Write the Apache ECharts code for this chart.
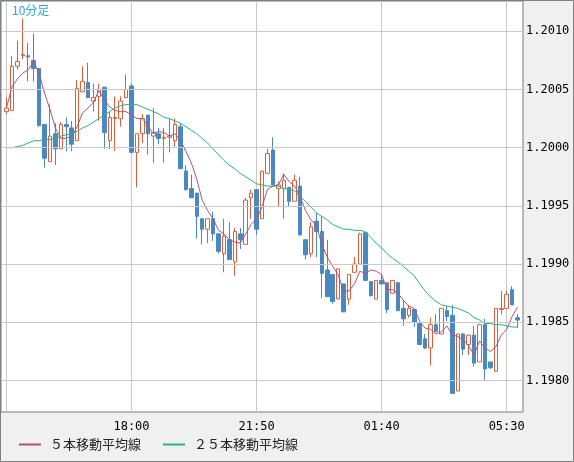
<!DOCTYPE html>
<html><head><meta charset="utf-8">
<script src="https://cdn.jsdelivr.net/npm/echarts@6/dist/echarts.min.js"></script>
<style>html,body{margin:0;padding:0;background:#f0f0f0}#c{width:574px;height:462px}</style>
</head><body><div id="c"></div>
<script>
// candles [open, close, low, high]
const opens  = [1.20031,1.20032,1.20070,1.20079,1.20079,1.20075,1.20068,1.20020,1.19988,1.20012,1.19999,1.20020,1.20017,1.20006,1.20048,1.20056,1.20040,1.20044,1.20052,1.20006,1.20025,1.20025,1.20043,1.20053,1.19996,1.20012,1.20028,1.20010,1.20012,1.20008,1.20009,1.20006,1.20018,1.19980,1.19965,1.19961,1.19939,1.19930,1.19939,1.19926,1.19909,1.19921,1.19902,1.19926,1.19917,1.19957,1.19964,1.19939,1.19978,1.19998,1.19965,1.19965,1.19966,1.19954,1.19967,1.19921,1.19909,1.19937,1.19928,1.19895,1.19891,1.19870,1.19883,1.19870,1.19893,1.19900,1.19927,1.19885,1.19870,1.19886,1.19884,1.19875,1.19884,1.19862,1.19856,1.19861,1.19849,1.19836,1.19828,1.19848,1.19840,1.19860,1.19856,1.19791,1.19840,1.19831,1.19839,1.19816,1.19848,1.19816,1.19808,1.19861,1.19862,1.19878,1.19854];
const highs  = [1.20043,1.20079,1.20092,1.20111,1.20090,1.20098,1.20068,1.20020,1.20037,1.20021,1.20022,1.20026,1.20023,1.20058,1.20070,1.20073,1.20055,1.20055,1.20052,1.20031,1.20044,1.20044,1.20063,1.20055,1.20012,1.20029,1.20028,1.20034,1.20017,1.20017,1.20025,1.20025,1.20021,1.19985,1.19977,1.19961,1.19939,1.19939,1.19945,1.19926,1.19939,1.19936,1.19931,1.19931,1.19957,1.19964,1.19964,1.19980,1.19999,1.20009,1.19971,1.19978,1.19966,1.19977,1.19975,1.19921,1.19936,1.19944,1.19941,1.19921,1.19891,1.19896,1.19883,1.19891,1.19906,1.19927,1.19927,1.19885,1.19886,1.19891,1.19884,1.19886,1.19884,1.19869,1.19865,1.19861,1.19849,1.19840,1.19854,1.19857,1.19862,1.19864,1.19865,1.19840,1.19841,1.19839,1.19847,1.19848,1.19853,1.19816,1.19862,1.19877,1.19877,1.19881,1.19857];
const lows   = [1.20029,1.20032,1.20067,1.20076,1.20057,1.20057,1.20018,1.19983,1.19988,1.19985,1.19999,1.19997,1.19997,1.20006,1.20048,1.20043,1.20031,1.20023,1.19999,1.19999,1.19997,1.20018,1.20043,1.19996,1.19966,1.20004,1.19994,1.19987,1.20003,1.19987,1.19996,1.20001,1.19982,1.19963,1.19957,1.19922,1.19917,1.19918,1.19920,1.19909,1.19893,1.19904,1.19890,1.19913,1.19917,1.19939,1.19925,1.19939,1.19978,1.19968,1.19949,1.19939,1.19949,1.19954,1.19925,1.19904,1.19906,1.19906,1.19871,1.19872,1.19866,1.19870,1.19859,1.19865,1.19893,1.19900,1.19886,1.19872,1.19870,1.19883,1.19858,1.19875,1.19860,1.19847,1.19854,1.19846,1.19831,1.19827,1.19813,1.19842,1.19840,1.19851,1.19789,1.19791,1.19822,1.19822,1.19812,1.19816,1.19800,1.19810,1.19808,1.19857,1.19862,1.19865,1.19845];
const closes = [1.20034,1.20070,1.20074,1.20080,1.20078,1.20068,1.20019,1.19991,1.20010,1.19999,1.20020,1.20018,1.20003,1.20051,1.20057,1.20043,1.20043,1.20050,1.20013,1.20026,1.20026,1.20040,1.20050,1.19996,1.20012,1.20025,1.20012,1.20013,1.20008,1.20009,1.20010,1.20020,1.19982,1.19964,1.19957,1.19941,1.19930,1.19939,1.19926,1.19911,1.19924,1.19904,1.19928,1.19921,1.19955,1.19961,1.19930,1.19980,1.19995,1.19968,1.19968,1.19972,1.19954,1.19972,1.19925,1.19908,1.19932,1.19928,1.19892,1.19872,1.19868,1.19896,1.19859,1.19891,1.19900,1.19926,1.19886,1.19873,1.19886,1.19883,1.19861,1.19886,1.19860,1.19853,1.19862,1.19850,1.19831,1.19828,1.19848,1.19842,1.19862,1.19855,1.19789,1.19840,1.19827,1.19839,1.19815,1.19848,1.19810,1.19811,1.19862,1.19862,1.19874,1.19865,1.19852];
const ma25 = [1.20000,1.20000,1.20001,1.20002,1.20004,1.20006,1.20006,1.20007,1.20007,1.20008,1.20010,1.20011,1.20012,1.20014,1.20017,1.20019,1.20022,1.20025,1.20028,1.20031,1.20034,1.20036,1.20037,1.20037,1.20037,1.20035,1.20033,1.20031,1.20029,1.20026,1.20025,1.20023,1.20021,1.20018,1.20015,1.20012,1.20008,1.20004,1.19999,1.19994,1.19989,1.19985,1.19982,1.19978,1.19975,1.19972,1.19969,1.19968,1.19967,1.19967,1.19967,1.19965,1.19964,1.19963,1.19958,1.19954,1.19949,1.19944,1.19941,1.19938,1.19934,1.19932,1.19930,1.19930,1.19929,1.19929,1.19928,1.19923,1.19918,1.19914,1.19909,1.19905,1.19902,1.19898,1.19894,1.19890,1.19883,1.19877,1.19872,1.19868,1.19865,1.19864,1.19863,1.19862,1.19860,1.19858,1.19854,1.19852,1.19849,1.19849,1.19848,1.19848,1.19847,1.19846,1.19846];
const yTicks = [1.1980,1.1985,1.1990,1.1995,1.2000,1.2005,1.2010];
const labelTimes = ['18:00','21:50','01:40','05:30'];
const gridTimes = ['14:10','18:00','21:50','01:40','05:30'];

const times = ['14:00'];
for (let i = 0; i < opens.length + 1; i++) {
  const m = 14*60 + 10 + i*10;
  const h = Math.floor(m/60) % 24, mm = m % 60;
  times.push(String(h).padStart(2,'0') + ':' + String(mm).padStart(2,'0'));
}
const candles = [['-','-','-','-']];
opens.forEach((o,i)=>candles.push([o, closes[i], lows[i], highs[i]]));
candles.push(['-','-','-','-']);
const ma5 = ['-'];
closes.forEach((c,i)=>{const s=closes.slice(Math.max(0,i-4),i+1);ma5.push(+(s.reduce((a,b)=>a+b,0)/s.length).toFixed(5));});
ma5.push('-');
const ma25d = ['-'].concat(ma25,['-']);
const isTick = v => yTicks.some(t => Math.abs(t - v) < 1e-7);

const chart = echarts.init(document.getElementById('c'));
chart.setOption({
  animation:false,
  backgroundColor:'#f0f0f0',
  grid:{left:1,right:51,top:1,bottom:50,show:true,backgroundColor:'#fff',borderColor:'#7a7a7a',borderWidth:1},
  legend:{left:14,bottom:6,itemWidth:22,itemHeight:2,itemGap:22,icon:'rect',
    textStyle:{fontFamily:'Noto Sans CJK JP',fontSize:13,color:'#222',padding:[0,0,0,4]},
    data:['５本移動平均線','２５本移動平均線']},
  xAxis:{type:'category',data:times,boundaryGap:false,
    axisLine:{show:false},axisTick:{show:false},
    axisLabel:{interval:(i,v)=>labelTimes.includes(v) && i>1,color:'#000',fontFamily:'DejaVu Sans Mono',fontSize:12,margin:9},
    splitLine:{show:true,interval:(i,v)=>gridTimes.includes(v)&&i>0,lineStyle:{color:'#c8c8c8',width:1}}},
  yAxis:{type:'value',position:'right',min:1.19773,max:1.20126,interval:0.00001,
    axisLine:{show:false},
    axisTick:{show:false},
    axisLabel:{formatter:v=>isTick(v)?v.toFixed(4):'',showMinLabel:false,showMaxLabel:false,color:'#000',fontFamily:'DejaVu Sans Mono',fontSize:12,margin:3},
    splitLine:{show:false}},
  graphic:[
    {type:'text',left:12,top:4,style:{text:'10分足',fill:'#2aa7df',font:'12px "Noto Sans CJK JP"'}},
    {type:'rect',shape:{x:0.5,y:0.5,width:573,height:461},style:{fill:'none',stroke:'#808080',lineWidth:1},z:100}
  ],
  series:[
    {type:'line',data:ma25d,z:1,silent:true,symbol:'none',lineStyle:{opacity:0},
      markLine:{silent:true,symbol:['none','none'],precision:4,label:{show:false},animation:false,
        lineStyle:{color:'#c8c8c8',type:'solid',width:1},
        data:yTicks.map(t=>[{xAxis:0,yAxis:t},{xAxis:times.length-1,yAxis:t}])}},
    {type:'candlestick',data:candles,barWidth:4,z:3,
      itemStyle:{color:'#ffffff',color0:'#4a89c0',borderColor:'#d9603b',borderColor0:'#4a89c0',borderWidth:1}},
    {name:'５本移動平均線',type:'line',data:ma5,showSymbol:false,symbol:'none',z:4,
      lineStyle:{color:'#b3507d',width:1},itemStyle:{color:'#b3507d'}},
    {name:'２５本移動平均線',type:'line',data:ma25d,showSymbol:false,symbol:'none',z:4,
      lineStyle:{color:'#2db27a',width:1},itemStyle:{color:'#2db27a'}}
  ]
});
</script></body></html>
